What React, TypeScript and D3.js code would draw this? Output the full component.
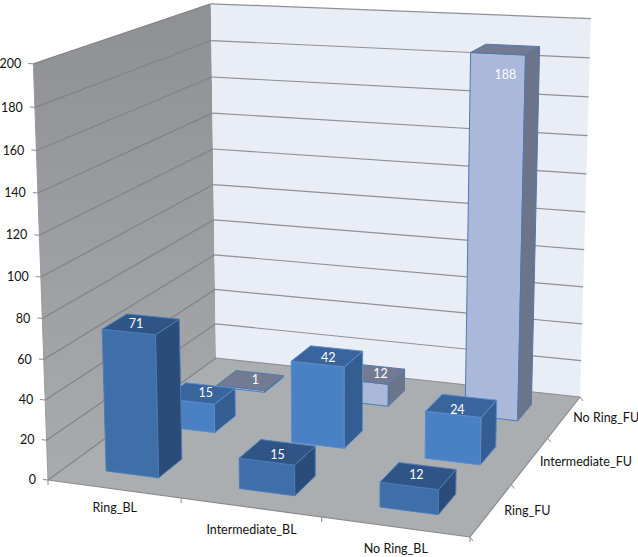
import React from "react";
import * as d3 from "d3";

const baseline = ["Ring_BL", "Intermediate_BL", "No Ring_BL"];
const followUp = ["Ring_FU", "Intermediate_FU", "No Ring_FU"];
const ringFu = [71, 15, 12];
const intermediateFu = [15, 42, 24];
const noRingFu = [1, 12, 188];
const rows = [ringFu, intermediateFu, noRingFu];
const yTicks = [0, 20, 40, 60, 80, 100, 120, 140, 160, 180, 200];

const width = 638;
const height = 557;
const font = "Lato, 'Open Sans', sans-serif";
const fontSize = 12.5;

// corners of the chart box
const floorFrontLeft = [48, 480];
const floorFrontRight = [470, 537];
const floorBackRight = [580, 397];
const floorBackLeft = [216, 358];
const topFrontLeft = [33, 61];
const topBackLeft = [211, 3];
const topBackRight = [591, 22];

// colours per follow-up row: front, top, side, edge
const rowColors = [
  { front: "#3f6fa8", top: "#2f5587", side: "#2b4c78", edge: "#4c7cb6" },
  { front: "#4a80c4", top: "#3a659c", side: "#345d92", edge: "#5a8ccb" },
  { front: "#aab9da", top: "#727b92", side: "#6b7489", edge: "#5079b0" },
];

// hand nudges for the data labels, [dx, dy] per row and column
const labelNudges = [
  [[-5, -1], [0, 2], [-2, -1]],
  [[6, -1], [1, 1], [-4, 4]],
  [[5, -1], [9, 0], [0, 25]],
];
const baselineLabelNudges = [[1, 19], [1, 23], [1, 22]];
const followUpLabelNudges = [[13, 1], [10, 1], [9, 1]];

function solve(A: number[][], b: number[]) {
  const m = A.map((r, i) => [...r, b[i]]);
  const n = b.length;
  for (let i = 0; i < n; i++) {
    let p = i;
    for (let r = i + 1; r < n; r++) if (Math.abs(m[r][i]) > Math.abs(m[p][i])) p = r;
    [m[i], m[p]] = [m[p], m[i]];
    for (let r = 0; r < n; r++) {
      if (r === i) continue;
      const f = m[r][i] / m[i][i];
      for (let c = i; c <= n; c++) m[r][c] -= f * m[i][c];
    }
  }
  return m.map((r, i) => r[n] / r[i]);
}

// floor homography: (x, z) in unit square -> picture
const floorPairs = [
  [0, 0, floorFrontLeft],
  [1, 0, floorFrontRight],
  [1, 1, floorBackRight],
  [0, 1, floorBackLeft],
] as [number, number, number[]][];
const hA: number[][] = [];
const hB: number[] = [];
floorPairs.forEach(([x, z, [u, v]]) => {
  hA.push([x, z, 1, 0, 0, 0, -u * x, -u * z]);
  hB.push(u);
  hA.push([0, 0, 0, x, z, 1, -v * x, -v * z]);
  hB.push(v);
});
const h = solve(hA, hB);

// height column, least squares from the three top corners
const topPairs = [
  [0, 0, topFrontLeft],
  [0, 1, topBackLeft],
  [1, 1, topBackRight],
] as [number, number, number[]][];
const rowsA: number[][] = [];
const rowsB: number[] = [];
topPairs.forEach(([x, z, [u, v]]) => {
  const X = h[0] * x + h[1] * z + h[2];
  const Y = h[3] * x + h[4] * z + h[5];
  const W = h[6] * x + h[7] * z + 1;
  rowsA.push([1, 0, -u]);
  rowsB.push(u * W - X);
  rowsA.push([0, 1, -v]);
  rowsB.push(v * W - Y);
});
const ata = [0, 1, 2].map((i) => [0, 1, 2].map((j) => d3.sum(rowsA, (r) => r[i] * r[j])));
const atb = [0, 1, 2].map((i) => d3.sum(rowsA, (r, k) => r[i] * rowsB[k]));
const [ha, hb, hc] = solve(ata, atb);

function project(x: number, y: number, z: number): [number, number] {
  const X = h[0] * x + h[1] * z + h[2] + ha * y;
  const Y = h[3] * x + h[4] * z + h[5] + hb * y;
  const W = h[6] * x + h[7] * z + 1 + hc * y;
  return [X / W, Y / W];
}

const xBand = d3.scaleBand<string>().domain(baseline).range([0, 1]).paddingInner(0.6).paddingOuter(0.3);
const zBand = d3.scaleBand<string>().domain(followUp).range([0, 1]).paddingInner(0.6).paddingOuter(0.3);
const xStep = d3.scaleLinear().domain([0, 3]).range([0, 1]);
const zStep = d3.scaleLinear().domain([0, 3]).range([0, 1]);
const yScale = d3.scaleLinear().domain([0, 200]).range([0, 1]);

const poly = (pts: [number, number][]) => d3.line()(pts) + "Z";

function Bar({ col, row }: { col: number; row: number }) {
  const value = rows[row][col];
  const c = rowColors[row];
  const x0 = xBand(baseline[col])!;
  const x1 = x0 + xBand.bandwidth();
  const z0 = zBand(followUp[row])!;
  const z1 = z0 + zBand.bandwidth();
  const y = yScale(value);
  const front = poly([project(x0, 0, z0), project(x1, 0, z0), project(x1, y, z0), project(x0, y, z0)]);
  const side = poly([project(x1, 0, z0), project(x1, 0, z1), project(x1, y, z1), project(x1, y, z0)]);
  const top = poly([project(x0, y, z0), project(x1, y, z0), project(x1, y, z1), project(x0, y, z1)]);
  const [lx, ly] = project((x0 + x1) / 2, y, (z0 + z1) / 2);
  const [nx, ny] = labelNudges[row][col];
  return (
    <g strokeWidth={1} stroke={c.edge} strokeLinejoin="round">
      <path d={front} fill={c.front} />
      <path d={side} fill={c.side} />
      <path d={top} fill={c.top} />
      <text x={lx + nx} y={ly + ny} dy="0.35em" textAnchor="middle" fill="#fff" stroke="none" fontSize={fontSize} fontFamily={font}>
        {value}
      </text>
    </g>
  );
}

export default function App() {
  const backLeftWall = poly([project(0, 0, 0), project(0, 0, 1), project(0, 1, 1), project(0, 1, 0)]);
  const backWall = poly([project(0, 0, 1), project(1, 0, 1), project(1, 1, 1), project(0, 1, 1)]);
  const floor = poly([project(0, 0, 0), project(1, 0, 0), project(1, 0, 1), project(0, 0, 1)]);
  const frontEdge = [project(0, 0, 0), project(1, 0, 0)] as [number, number][];
  const sideEdge = [project(1, 0, 0), project(1, 0, 1)] as [number, number][];
  const line = d3.line();

  return (
    <svg width={width} height={height} style={{ position: "absolute", left: 0, top: 0, background: "#fff" }}>
      <defs>
        <linearGradient id="wallFade" x1="0" y1="0" x2="0" y2="1">
          <stop offset="0" stopColor="#8e9094" />
          <stop offset="1" stopColor="#a9abad" />
        </linearGradient>
      </defs>

      {/* walls and floor */}
      <path d={backLeftWall} fill="url(#wallFade)" />
      <path d={backWall} fill="#e9eef6" />
      <path d={floor} fill="#abaeb0" />

      {/* gridlines */}
      {yTicks.map((t) => {
        const y = yScale(t);
        return (
          <g key={t} fill="none" strokeWidth={1.2}>
            <path d={line([project(0, y, 0), project(0, y, 1)])!} stroke="#808285" />
            <path d={line([project(0, y, 1), project(1, y, 1)])!} stroke="#8e9093" />
          </g>
        );
      })}

      {/* axis lines and ticks */}
      <path d={line([project(0, 0, 0), project(0, 1, 0)])!} stroke="#9a9a9a" fill="none" />
      <path d={line(frontEdge)!} stroke="#8a8a8a" fill="none" strokeWidth={1.2} />
      <path d={line(sideEdge)!} stroke="#8a8a8a" fill="none" strokeWidth={1.2} />
      {yTicks.map((t) => {
        const [px, py] = project(0, yScale(t), 0);
        return (
          <g key={t}>
            <line x1={px - 5} x2={px} y1={py - 0.5} y2={py} stroke="#8a8a8a" />
            <text x={px - 12} y={py} dy="0.33em" textAnchor="end" fontSize={fontSize} fontFamily={font} fill="#111">
              {t}
            </text>
          </g>
        );
      })}
      {d3.range(0, 4).map((i) => {
        const [px, py] = project(xStep(i), 0, 0);
        return <line key={i} x1={px} x2={px} y1={py} y2={py + 5} stroke="#8a8a8a" />;
      })}
      {d3.range(0, 4).map((i) => {
        const [px, py] = project(1, 0, zStep(i));
        return <line key={i} x1={px} x2={px + 3} y1={py} y2={py + 4} stroke="#8a8a8a" />;
      })}

      {/* bars, back row first */}
      {[2, 1, 0].map((row) => [0, 1, 2].map((col) => <Bar key={`${row}-${col}`} col={col} row={row} />))}

      {/* category labels */}
      {baseline.map((name, i) => {
        const [px, py] = project(xStep(i + 0.5), 0, 0);
        const [nx, ny] = baselineLabelNudges[i];
        return (
          <text key={name} x={px + nx} y={py + ny} dy="0.33em" textAnchor="middle" fontSize={fontSize} fontFamily={font} fill="#111">
            {name}
          </text>
        );
      })}
      {followUp.map((name, i) => {
        const [px, py] = project(1, 0, zStep(i + 0.5));
        const [nx, ny] = followUpLabelNudges[i];
        return (
          <text key={name} x={px + nx} y={py + ny} dy="0.33em" fontSize={fontSize} fontFamily={font} fill="#111">
            {name}
          </text>
        );
      })}
    </svg>
  );
}
